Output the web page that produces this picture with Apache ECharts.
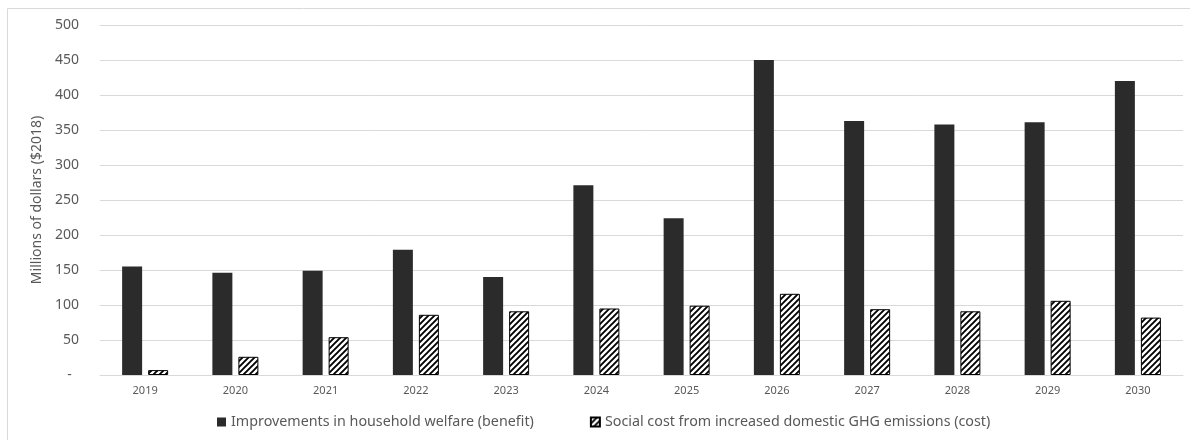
<!DOCTYPE html>
<html>
<head>
<meta charset="utf-8">
<script src="https://cdn.jsdelivr.net/npm/echarts@6/dist/echarts.min.js"></script>
<style>
html, body { margin: 0; padding: 0; background: #fff; }
#container1 { width: 1190px; height: 440px; }
</style>
</head>
<body>
<div id="container1"></div>
<script>
var years = ['2019','2020','2021','2022','2023','2024','2025','2026','2027','2028','2029','2030'];
var benefit = [155, 146, 149, 179, 140, 271, 224, 450, 363, 358, 361, 420];
var cost = [7, 26, 54, 86, 91, 95, 99, 116, 94, 91, 106, 82];
var yTicks = { min: 0, max: 500, step: 50 };
var names = ['Improvements in household welfare (benefit)', 'Social cost from increased domestic GHG emissions (cost)'];

// diagonal hatch tile for the cost bars
function makeHatch(){
    var c = document.createElement('canvas');
    var s = 6;
    c.width = s; c.height = s;
    var ctx = c.getContext('2d');
    ctx.fillStyle = '#fff';
    ctx.fillRect(0, 0, s, s);
    ctx.strokeStyle = '#000';
    ctx.lineWidth = 1.9;
    ctx.beginPath();
    ctx.moveTo(-1, s + 1); ctx.lineTo(s + 1, -1);
    ctx.moveTo(-1, 1); ctx.lineTo(1, -1);
    ctx.moveTo(s - 1, s + 1); ctx.lineTo(s + 1, s - 1);
    ctx.stroke();
    return c;
}

var myChart1 = echarts.init(document.getElementById('container1'), null, { renderer: 'canvas' });
var font = 'Noto Sans';
var option1 = {
    animation: false,
    backgroundColor: '#fff',
    textStyle: { fontFamily: font },
    graphic: [{
        type: 'rect',
        shape: { x: 7.5, y: 8.5, width: 1200, height: 500 },
        style: { fill: 'none', stroke: '#d9d9d9', lineWidth: 1 },
        silent: true
    }],
    grid: { left: 100, right: 7, top: 25, bottom: 65, containLabel: false },
    legend: {
        left: 212,
        top: 410,
        itemWidth: 9,
        itemHeight: 9,
        itemGap: 56,
        icon: 'rect',
        textStyle: { color: '#595959', fontSize: 14.3, fontFamily: font },
        data: names
    },
    xAxis: {
        type: 'category',
        data: years,
        axisTick: { show: false },
        axisLine: { lineStyle: { color: '#d9d9d9' } },
        axisLabel: { color: '#595959', fontSize: 11, margin: 10 }
    },
    yAxis: {
        type: 'value',
        min: yTicks.min,
        max: yTicks.max,
        interval: yTicks.step,
        name: 'Millions of dollars ($2018)',
        nameLocation: 'middle',
        nameGap: 56,
        nameRotate: 90,
        nameTextStyle: { color: '#595959', fontSize: 14 },
        axisLine: { show: false },
        axisTick: { show: false },
        splitLine: { lineStyle: { color: '#d9d9d9' } },
        axisLabel: {
            color: '#595959', fontSize: 14, margin: 21,
            formatter: function(v){ return v === 0 ? '-  ' : String(v); }
        }
    },
    series: [
        {
            name: names[0],
            type: 'bar',
            data: benefit,
            barWidth: 20,
            barGap: '30%',
            itemStyle: { color: '#2b2b2b' }
        },
        {
            name: names[1],
            type: 'bar',
            data: cost,
            barWidth: 20,
            itemStyle: {
                color: { image: makeHatch(), repeat: 'repeat' },
                borderColor: '#000',
                borderWidth: 1
            }
        }
    ]
};
myChart1.setOption(option1);
</script>
</body>
</html>
